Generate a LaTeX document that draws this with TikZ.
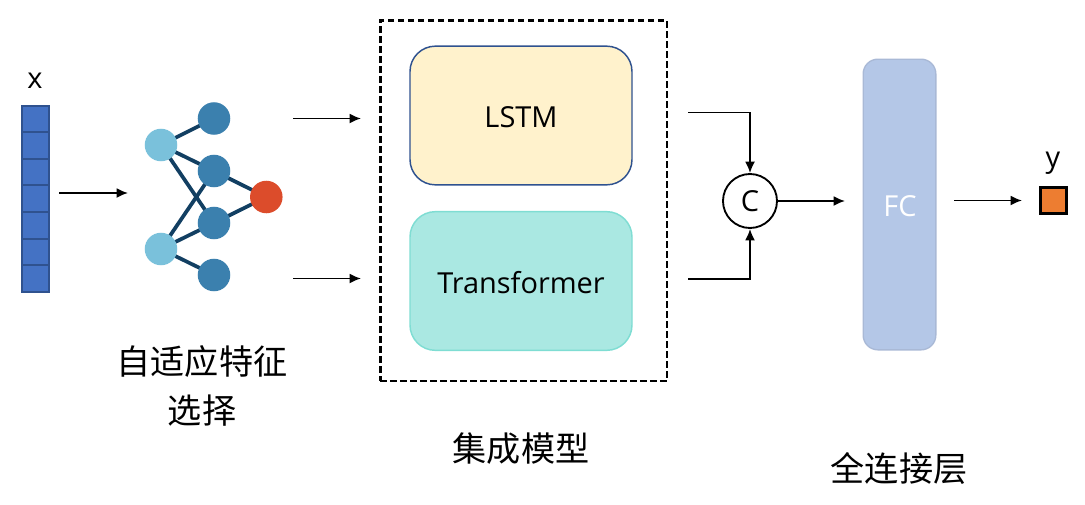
\documentclass[tikz,border=0pt]{standalone}
\usepackage{fontspec}
\setmainfont{Open Sans}
\newfontfamily\cjk{Noto Sans CJK SC}
\usetikzlibrary{arrows.meta,backgrounds}
\tikzset{
  x=0.75pt,y=-0.75pt,
  flow/.style={draw=black,line width=1.4pt,-{Latex[length=8.5pt,width=7.5pt]}},
  cell/.style={draw=cellline,fill=cellfill,line width=1.5pt,minimum width=20.25pt,minimum height=20.04pt,inner sep=0pt,anchor=north west},
  dot/.style={circle,minimum size=24.4pt,inner sep=0pt},
  lightdot/.style={dot,fill=lightblue},
  midDot/.style={dot,fill=midblue},
  reddot/.style={dot,fill=netred},
  link/.style={draw=linkblue,line width=2.8pt},
  model/.style={draw,rounded corners=19pt,minimum width=166.5pt,minimum height=104pt,inner sep=0pt,line width=1.1pt},
  label/.style={font=\fontsize{21.7pt}{25pt}\selectfont,text=black,inner sep=0pt},
  cjklabel/.style={font=\cjk\fontsize{25.6pt}{30pt}\selectfont,text=black,inner sep=0pt}
}
\definecolor{cellline}{HTML}{2F528F}
\definecolor{cellfill}{HTML}{4472C4}
\definecolor{lightblue}{HTML}{7AC1DB}
\definecolor{midblue}{HTML}{3B80AE}
\definecolor{netred}{HTML}{DC4C2B}
\definecolor{linkblue}{HTML}{123F62}
\definecolor{lstmfill}{HTML}{FFF2CC}
\definecolor{lstmline}{HTML}{2F528F}
\definecolor{trfill}{HTML}{AAE8E2}
\definecolor{trline}{HTML}{7FDDD3}
\definecolor{fcfill}{HTML}{B4C7E7}
\definecolor{fcline}{HTML}{A9B9D6}
\definecolor{outfill}{HTML}{ED7D31}
\begin{document}
\begin{tikzpicture}
\useasboundingbox (0,0) rectangle (1085,504);
% input stack
\foreach \i/\y in {0/104.6,1/131.2,2/157.8,3/184.4,4/211,5/237.6,6/264.2}
  \node[cell] (c\i) at (20.5,\y) {};
\node[label] (xl) at (35,81) {x};
% network
\node[midDot] (n1) at (214,118.5) {};
\node[lightdot] (a1) at (161,145) {};
\node[midDot] (n2) at (214,171) {};
\node[reddot] (r) at (266.3,197) {};
\node[midDot] (n3) at (214,223) {};
\node[lightdot] (a2) at (161,249) {};
\node[midDot] (n4) at (214,275) {};
\begin{scope}[on background layer]
  \draw[link] (a1.center) -- (n1.center);
  \draw[link] (a1.center) -- (n2.center);
  \draw[link] (a1.center) -- (n3.center);
  \draw[link] (a2.center) -- (n2.center);
  \draw[link] (a2.center) -- (n3.center);
  \draw[link] (a2.center) -- (n4.center);
  \draw[link] (n2.center) -- (r.center);
  \draw[link] (n3.center) -- (r.center);
\end{scope}
\node[cjklabel] (s1) at (202,362) {自适应特征};
\node[cjklabel] (s2) at (202,411) {选择};
% input arrow
\coordinate (i0) at (59,193);
\coordinate (i1) at (128,193);
\draw[flow] (i0) -- (i1);
% ensemble
\node[draw,line width=2pt,minimum width=215pt,minimum height=270.5pt,inner sep=0pt,dash pattern=on 5pt off 2.5pt] (ens) at (523.5,200.5) {};
\node[model,draw=lstmline,fill=lstmfill] (lstm) at (521,115.5) {};
\node[label] at (521,117) {LSTM};
\node[model,draw=trline,fill=trfill] (tr) at (521,281) {};
\node[label] at (521,282.5) {Transformer};
\node[cjklabel] (em) at (521,449) {集成模型};
\coordinate (e0) at (293,118.5);
\coordinate (e1) at (361,118.5);
\coordinate (f0) at (293,278.5);
\coordinate (f1) at (361,278.5);
\draw[flow] (e0) -- (e1);
\draw[flow] (f0) -- (f1);
% concat
\node[circle,draw=black,fill=white,line width=1.4pt,minimum size=40.5pt,inner sep=0pt,label] (cc) at (750,201) {C};
\coordinate (g0) at (688,112.5);
\coordinate (g1) at (688,279);
\draw[flow] (g0) -| (cc.north);
\draw[flow] (g1) -| (cc.south);
% FC
\node[draw=fcline,fill=fcfill,rounded corners=11pt,minimum width=54.5pt,minimum height=218pt,inner sep=0pt,line width=1pt] (fc) at (899.5,204.5) {};
\node[label,text=white] at (900,206) {FC};
\node[cjklabel] (fl) at (899,468) {全连接层};
\coordinate (h1) at (845,201);
\draw[flow] (cc.east) -- (h1);
% output
\node[draw=black,fill=outfill,line width=1.6pt,minimum size=19.5pt,inner sep=0pt] (out) at (1053.5,200.5) {};
\node[label] (yl) at (1053,163) {y};
\coordinate (o0) at (954,200.5);
\coordinate (o1) at (1022,200.5);
\draw[flow] (o0) -- (o1);
\end{tikzpicture}
\end{document}
